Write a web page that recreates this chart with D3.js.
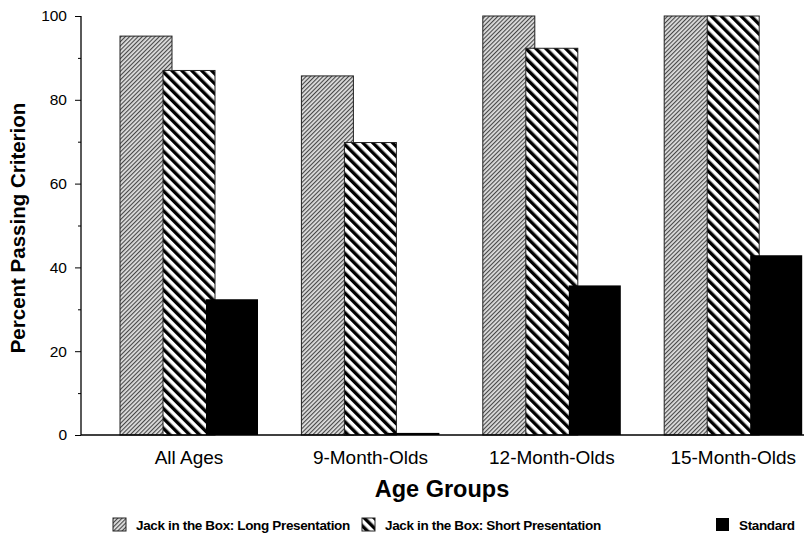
<!DOCTYPE html>
<html><head><meta charset="utf-8">
<script src="https://cdn.jsdelivr.net/npm/d3@7"></script>
<style>
html,body{margin:0;padding:0;background:#fff;}
svg{display:block;font-family:"Liberation Sans",Arial,Helvetica,sans-serif;}
</style></head>
<body>
<script>
const categories = ["All Ages", "9-Month-Olds", "12-Month-Olds", "15-Month-Olds"];
const seriesNames = ["Jack in the Box: Long Presentation", "Jack in the Box: Short Presentation", "Standard"];
const longPresentation = [95.2, 85.7, 100, 100];
const shortPresentation = [87, 69.8, 92.3, 100];
const standard = [32.4, 0.5, 35.7, 42.9];
const yTicks = [0, 20, 40, 60, 80, 100];
const yMinorTicks = [10, 30, 50, 70, 90];

const W = 804, H = 541;
const svg = d3.select("body").append("svg").attr("width", W).attr("height", H);
const defs = svg.append("defs");

// patterns
const pLong = defs.append("pattern").attr("id","pLong").attr("patternUnits","userSpaceOnUse")
  .attr("width",3).attr("height",3).attr("patternTransform","rotate(45)");
pLong.append("rect").attr("width",3).attr("height",3).attr("fill","#dedede");
pLong.append("rect").attr("width",1.1).attr("height",3).attr("fill","#474747");

const pShort = defs.append("pattern").attr("id","pShort").attr("patternUnits","userSpaceOnUse")
  .attr("width",7).attr("height",7).attr("patternTransform","rotate(-45)");
pShort.append("rect").attr("width",7).attr("height",7).attr("fill","#fff");
pShort.append("rect").attr("width",3.4).attr("height",7).attr("fill","#000");

const fills = ["url(#pLong)", "url(#pShort)", "#000"];
const seriesData = [longPresentation, shortPresentation, standard];

const axisX = 81, y0 = 435, yTop = 16;
const y = d3.scaleLinear().domain([0,100]).range([y0, yTop]);

const groupStep = 181.4, barW = 52;
const x = d3.scaleBand().domain(categories)
  .range([axisX, axisX + groupStep*(4 - 0.239 + 2*0.215)])
  .paddingInner(0.239).paddingOuter(0.215);
const xs = d3.scaleBand().domain(d3.range(seriesNames.length)).range([0, 129]);

const g = svg.append("g");
seriesData.forEach((vals, si) => {
  g.append("g").selectAll("rect").data(vals).join("rect")
    .attr("x", (d,i) => x(categories[i]) + xs(si))
    .attr("y", d => y(d))
    .attr("width", barW)
    .attr("height", d => y0 - y(d))
    .attr("fill", fills[si])
    .attr("stroke", si === 2 ? "none" : "#222")
    .attr("stroke-width", 1);
});

// y axis
const yAxis = d3.axisLeft(y).tickValues(yTicks).tickSize(6).tickPadding(8).tickFormat(d3.format("d"));
const ya = svg.append("g").attr("transform", `translate(${axisX},0)`).call(yAxis);
ya.select(".domain").remove();
ya.selectAll("text").attr("font-size", 15.5).attr("fill","#000").attr("font-family","Liberation Sans, Arial, sans-serif");
ya.selectAll("line").attr("stroke","#000");
const yMinor = d3.axisLeft(y).tickValues(yMinorTicks).tickSize(3).tickFormat("");
const ym = svg.append("g").attr("transform", `translate(${axisX},0)`).call(yMinor);
ym.select(".domain").remove();
ym.selectAll("line").attr("stroke","#000");
svg.append("line").attr("x1",axisX).attr("x2",axisX).attr("y1",yTop).attr("y2",y0)
  .attr("stroke","#000").attr("stroke-width",1.3);

// x baseline
svg.append("line").attr("x1",axisX).attr("x2",W).attr("y1",y0).attr("y2",y0)
  .attr("stroke","#000").attr("stroke-width",1.6);

// x labels
const xAxis = d3.axisBottom(x).tickSize(0).tickPadding(16);
const xa = svg.append("g").attr("transform", `translate(0,${y0})`).call(xAxis);
xa.select(".domain").remove();
xa.selectAll("text").attr("font-size", 19).attr("fill","#000").attr("font-family","Liberation Sans, Arial, sans-serif");

// axis titles
svg.append("text").attr("x", 442).attr("y", 497).attr("text-anchor","middle")
  .attr("font-size",23.5).attr("font-weight","bold").text("Age Groups");
svg.append("text").attr("transform","translate(25,228) rotate(-90)").attr("text-anchor","middle")
  .attr("font-size",20.5).attr("font-weight","bold").text("Percent Passing Criterion");

// legend
const legSwatchX = [113, 362, 716];
const leg = svg.append("g");
seriesNames.forEach((n, i) => {
  const lg = leg.append("g").attr("transform", `translate(${legSwatchX[i]},518)`);
  lg.append("rect").attr("width",13).attr("height",13).attr("fill",fills[i])
    .attr("stroke", i===2 ? "none" : "#222").attr("stroke-width",1);
  lg.append("text").attr("x",23).attr("y",12.3).attr("font-size",13.5)
    .attr("letter-spacing", -0.35).attr("font-weight","bold").text(n);
});
</script>
</body></html>
